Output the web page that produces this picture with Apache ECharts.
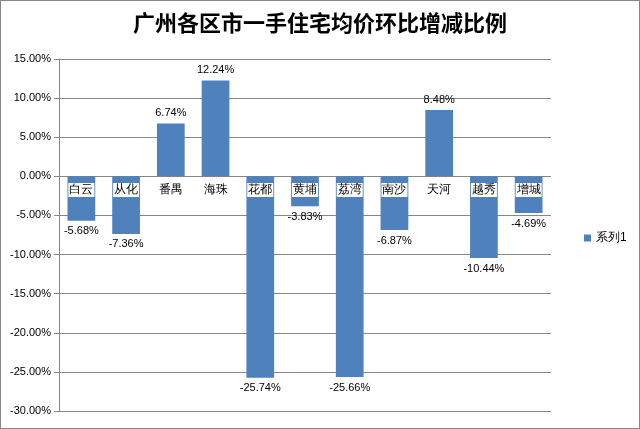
<!DOCTYPE html>
<html><head><meta charset="utf-8">
<script src="https://cdn.jsdelivr.net/npm/echarts@6/dist/echarts.min.js"></script>
<style>html,body{margin:0;padding:0;background:#fff}#c{width:638px;height:427px;border:1px solid #888}</style>
</head><body><div id="c"></div>
<script>
const districts = ['白云', '从化', '番禺', '海珠', '花都', '黄埔', '荔湾', '南沙', '天河', '越秀', '增城'];
const changes = [-5.68, -7.36, 6.74, 12.24, -25.74, -3.83, -25.66, -6.87, 8.48, -10.44, -4.69];

const chart = echarts.init(document.getElementById('c'));
chart.setOption({
    animation: false,
    title: {
        text: '广州各区市一手住宅均价环比增减比例',
        left: 'center', top: 6,
        textStyle: { fontFamily: 'Noto Sans CJK SC', fontSize: 22, fontWeight: 'bold', color: '#000' }
    },
    legend: {
        data: ['系列1'], orient: 'vertical', left: 578, top: 226,
        itemWidth: 7, itemHeight: 7, icon: 'rect',
        textStyle: { fontSize: 12, color: '#000' }
    },
    grid: { left: 58, right: 88, top: 58, bottom: 17 },
    xAxis: [{
        type: 'category', data: districts,
        axisLine: { show: false },
        axisTick: { show: false },
        axisLabel: { color: '#000', fontSize: 12, backgroundColor: '#fff', margin: -228, padding: [1, 1] },
        z: 10
    }, {
        type: 'category', data: districts, show: false
    }],
    yAxis: {
        type: 'value', min: -30, max: 15, interval: 5,
        axisLine: { show: true, lineStyle: { color: '#868686' } },
        axisTick: { show: true },
        axisLabel: { color: '#000', fontSize: 11, formatter: v => v.toFixed(2) + '%' },
        splitLine: { lineStyle: { color: '#868686' } }
    },
    series: [{
        name: '系列1', type: 'bar', barWidth: '62%',
        itemStyle: { color: '#4F81BD' },
        data: changes.map(v => ({
            value: v,
            label: { show: true, position: v >= 0 ? 'top' : 'bottom', formatter: v.toFixed(2) + '%', color: '#000', fontSize: 11 }
        }))
    }]
});
</script></body></html>
